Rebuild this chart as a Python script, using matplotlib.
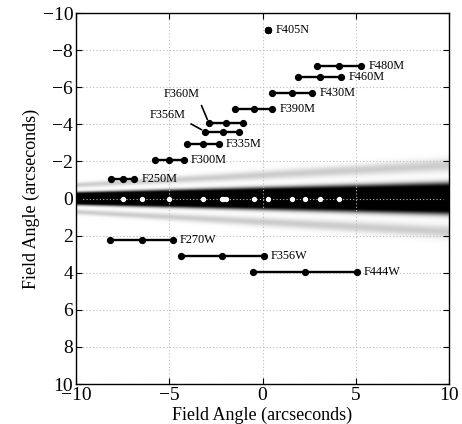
import numpy as np
import matplotlib
matplotlib.use("Agg")
import matplotlib.pyplot as plt

plt.rcParams['font.family'] = ['Liberation Serif', 'DejaVu Serif']

# Filter data: name, y (field angle), x of three points (start, centre, end)
filters = ["F250M", "F300M", "F335M", "F356M", "F360M", "F390M", "F405N",
           "F430M", "F460M", "F480M", "F270W", "F356W", "F444W"]
y_pos = [-1.03, -2.06, -2.95, -3.60, -4.05, -4.82, -9.08,
         -5.70, -6.53, -7.16, 2.22, 3.08, 3.98]
x_start = [-8.14, -5.76, -4.06, -3.07, -2.87, -1.46, 0.31,
           0.49, 1.92, 2.91, -8.18, -4.39, -0.49]
x_mid = [-7.46, -5.00, -3.17, -2.13, -1.94, -0.46, 0.31,
         1.58, 3.07, 4.09, -6.46, -2.16, 2.28]
x_end = [-6.87, -4.21, -2.33, -1.24, -1.05, 0.53, 0.31,
         2.67, 4.23, 5.30, -4.80, 0.08, 5.07]

x_ticks = [-10, -5, 0, 5, 10]
y_ticks = [-10, -8, -6, -4, -2, 0, 2, 4, 6, 8, 10]

fig = plt.figure(figsize=(4.62, 4.24), dpi=100)
ax = fig.add_axes([0.1645, 0.0943, 0.8074, 0.875])

# background: dispersed PSF band (smeared spectrum), darkness image
xs = np.linspace(-10, 10, 400)
ys = np.linspace(-10, 10, 1600)
X, Y = np.meshgrid(xs, ys)
w = 0.25 + 0.0185 * (X + 10)
r = np.abs(Y) / w
core = np.where(r < 1, 1.0, np.exp(-((r - 1) / 0.45) ** 2))
ring = 0.20 * np.exp(-((r - 2.9) / 0.55) ** 2)
dark = np.clip(core + ring, 0, 1)
ax.imshow(dark, extent=[-10, 10, 10, -10], cmap='gray_r', vmin=0, vmax=1,
          aspect='auto', interpolation='bilinear', zorder=0)

ax.set_xlim(-10, 10)
ax.set_ylim(10, -10)
ax.set_xticks(x_ticks)
ax.set_yticks(y_ticks)
ax.set_xticklabels([f"{t}".replace('-', '\u2212') for t in x_ticks])
ax.set_yticklabels([f"{t}".replace('-', '\u2212') for t in y_ticks])
ax.tick_params(direction='in', top=True, right=True, length=4, width=0.8,
               labelsize=14, pad=2)
ax.grid(True, linestyle=(0, (1, 2)), color='#bbbbbb', linewidth=0.8, zorder=0.5)
for s in ax.spines.values():
    s.set_linewidth(1.0)

# midpoints as white dots on the band
ax.plot(x_mid, [0] * len(x_mid), 'o', color='white', ms=3.8, mec='none', zorder=3)

special = {"F360M": (-7, 21), "F356M": (-14, 12)}
for name, y, xs_, xm, xe in zip(filters, y_pos, x_start, x_mid, x_end):
    ax.plot([xs_, xm, xe], [y, y, y], '-o', color='black', lw=1.7, ms=4.2, zorder=4)
    if name in special:
        ax.annotate(name, xy=(xs_, y), xytext=special[name], textcoords='offset points',
                    ha='right', va='center', fontsize=8.8,
                    arrowprops=dict(arrowstyle='-', color='black', lw=1.2,
                                    relpos=(1.0, 0.0), shrinkA=2, shrinkB=3))
    else:
        ax.annotate(name, xy=(xe, y), xytext=(5, 0), textcoords='offset points',
                    ha='left', va='center', fontsize=8.8)

ax.set_xlabel("Field Angle (arcseconds)", fontsize=13, labelpad=2)
ax.set_ylabel("Field Angle (arcseconds)", fontsize=13, labelpad=2)

fig.savefig("out.png", dpi=100)
